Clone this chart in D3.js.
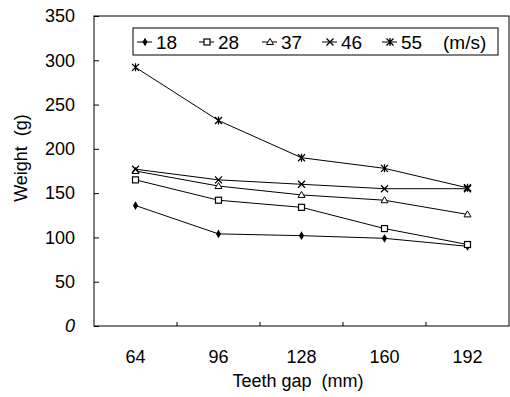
<!DOCTYPE html>
<html>
<head>
<meta charset="utf-8">
<script src="https://cdn.jsdelivr.net/npm/d3@7"></script>
<style>
  body { margin: 0; background: #fff; }
  svg { font-family: "Liberation Sans", Arial, sans-serif; }
  .title { white-space: pre; }
</style>
</head>
<body>
<div id="chart"></div>
<script>
const gaps = ["64", "96", "128", "160", "192"];
const speeds = ["18", "28", "37", "46", "55"];
const w18 = [136, 104, 102, 99, 90];
const w28 = [165, 142, 134, 110, 92];
const w37 = [175, 158, 148, 142, 126];
const w46 = [177, 165, 160, 155, 155];
const w55 = [292, 232, 190, 178, 156];
const yTicks = [0, 50, 100, 150, 200, 250, 300, 350];

const series = [
  { name: speeds[0], values: w18, marker: "diamond" },
  { name: speeds[1], values: w28, marker: "square" },
  { name: speeds[2], values: w37, marker: "triangle" },
  { name: speeds[3], values: w46, marker: "cross" },
  { name: speeds[4], values: w55, marker: "star" }
];

const width = 510, height = 397;
const margin = { top: 16, right: 1, bottom: 71, left: 94 };
const innerW = width - margin.left - margin.right;
const innerH = height - margin.top - margin.bottom;

const svg = d3.select("#chart").append("svg")
  .attr("width", width)
  .attr("height", height);

const g = svg.append("g")
  .attr("transform", "translate(" + margin.left + "," + margin.top + ")");

const x = d3.scaleBand().domain(gaps).range([0, innerW]);
const y = d3.scaleLinear().domain([0, 350]).range([innerH, 0]);

// frame
g.append("rect")
  .attr("width", innerW).attr("height", innerH)
  .attr("fill", "none").attr("stroke", "#000").attr("stroke-width", 1);

// y axis, ticks inside
const yAxis = g.append("g")
  .call(d3.axisLeft(y).tickValues(yTicks).tickSize(-5).tickPadding(19));
yAxis.select(".domain").remove();
yAxis.selectAll("text").style("font-size", "18px").attr("fill", "#000");
yAxis.select(".tick:first-of-type text").style("font-style", "italic");

// x axis, ticks between categories
const xAxis = g.append("g")
  .attr("transform", "translate(0," + innerH + ")")
  .call(d3.axisBottom(x).tickSize(0).tickPadding(24));
xAxis.select(".domain").remove();
xAxis.selectAll("text").style("font-size", "18px").attr("fill", "#000");
g.selectAll(".xsep")
  .data(gaps.slice(1))
  .enter().append("line")
  .attr("x1", d => x(d)).attr("x2", d => x(d))
  .attr("y1", innerH).attr("y2", innerH - 4)
  .attr("stroke", "#000");

// axis titles
svg.append("text")
  .attr("class", "title")
  .attr("transform", "translate(27," + 158 + ") rotate(-90)")
  .attr("text-anchor", "middle")
  .style("font-size", "18px")
  .text("Weight  (g)");
svg.append("text")
  .attr("class", "title")
  .attr("x", 298)
  .attr("y", 387)
  .attr("text-anchor", "middle")
  .style("font-size", "18px")
  .text("Teeth gap  (mm)");

function drawMarker(sel, type) {
  if (type === "diamond") {
    sel.append("path").attr("d", d3.symbol(d3.symbolDiamond, 22)())
      .attr("fill", "#000");
  } else if (type === "square") {
    sel.append("rect").attr("x", -3).attr("y", -3).attr("width", 6).attr("height", 6)
      .attr("fill", "#fff").attr("stroke", "#000").attr("stroke-width", 1.2);
  } else if (type === "triangle") {
    sel.append("path").attr("d", "M0,-3.5L3.5,2.5L-3.5,2.5Z")
      .attr("fill", "#fff").attr("stroke", "#000").attr("stroke-width", 1);
  } else if (type === "cross") {
    sel.append("path").attr("d", "M-3.5,-3.5L3.5,3.5M-3.5,3.5L3.5,-3.5")
      .attr("stroke", "#000").attr("stroke-width", 1.3);
  } else {
    sel.append("path").attr("d", "M-3.5,-3.5L3.5,3.5M-3.5,3.5L3.5,-3.5M0,-4L0,4")
      .attr("stroke", "#000").attr("stroke-width", 1.3);
  }
}

const line = d3.line()
  .x((d, i) => x(gaps[i]) + x.bandwidth() / 2)
  .y(d => y(d));

series.forEach(s => {
  g.append("path")
    .datum(s.values)
    .attr("fill", "none")
    .attr("stroke", "#000")
    .attr("stroke-width", 1)
    .attr("d", line);
  s.values.forEach((v, i) => {
    const m = g.append("g")
      .attr("transform", "translate(" + (x(gaps[i]) + x.bandwidth() / 2) + "," + y(v) + ")");
    drawMarker(m, s.marker);
  });
});

// legend
const legend = svg.append("g").attr("transform", "translate(133,28)");
legend.append("rect")
  .attr("width", 365).attr("height", 27)
  .attr("fill", "#fff").attr("stroke", "#000");
const itemX = [4, 66, 129, 189, 249];
series.forEach((s, i) => {
  const it = legend.append("g").attr("transform", "translate(" + itemX[i] + ",14)");
  it.append("line").attr("x1", 0).attr("x2", 15).attr("stroke", "#000");
  const m = it.append("g").attr("transform", "translate(8,0)");
  drawMarker(m, s.marker);
  it.append("text").attr("x", 19).attr("y", 6.5).style("font-size", "19px").text(s.name);
});
legend.append("text").attr("x", 310).attr("y", 20.5).style("font-size", "19px").text("(m/s)");
</script>
</body>
</html>
